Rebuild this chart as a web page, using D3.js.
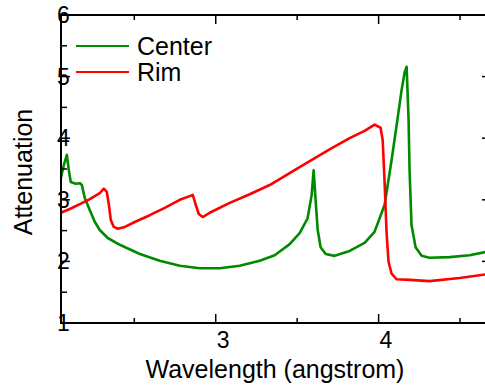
<!DOCTYPE html>
<html>
<head>
<meta charset="utf-8">
<script src="https://cdn.jsdelivr.net/npm/d3@7"></script>
<style>
  body { margin: 0; background: #fff; }
  text { font-family: Arial, "Liberation Sans", sans-serif; fill: #000; }
</style>
</head>
<body>
<script>
// données : longueur d'onde (angstrom) et atténuation
const centerWave = [2.049, 2.067, 2.086, 2.098, 2.11, 2.141, 2.166, 2.178, 2.196, 2.227, 2.258, 2.288, 2.337, 2.411, 2.534, 2.656, 2.779, 2.902, 3.025, 3.147, 3.27, 3.362, 3.454, 3.515, 3.564, 3.589, 3.601, 3.613, 3.626, 3.644, 3.675, 3.73, 3.822, 3.914, 3.975, 4.037, 4.08, 4.117, 4.141, 4.16, 4.172, 4.184, 4.19, 4.202, 4.227, 4.264, 4.313, 4.436, 4.558, 4.69]
const centerAtt = [3.35, 3.56, 3.73, 3.48, 3.29, 3.26, 3.27, 3.24, 3.03, 2.83, 2.64, 2.51, 2.38, 2.27, 2.12, 2.01, 1.93, 1.89, 1.89, 1.93, 2.01, 2.10, 2.28, 2.46, 2.70, 3.08, 3.48, 3.0, 2.51, 2.23, 2.12, 2.09, 2.17, 2.30, 2.48, 2.92, 3.65, 4.33, 4.78, 5.07, 5.16, 4.30, 3.48, 2.59, 2.23, 2.09, 2.06, 2.07, 2.10, 2.17]

const rimWave = [2.049, 2.104, 2.166, 2.227, 2.288, 2.313, 2.331, 2.344, 2.356, 2.374, 2.399, 2.442, 2.503, 2.595, 2.687, 2.779, 2.84, 2.859, 2.877, 2.896, 2.92, 2.963, 3.086, 3.209, 3.331, 3.515, 3.699, 3.822, 3.914, 3.975, 4.012, 4.025, 4.037, 4.049, 4.061, 4.08, 4.11, 4.19, 4.313, 4.497, 4.69]
const rimAtt = [2.79, 2.85, 2.93, 3.01, 3.11, 3.18, 3.13, 2.92, 2.67, 2.56, 2.53, 2.56, 2.64, 2.75, 2.87, 3.0, 3.06, 3.08, 2.92, 2.77, 2.72, 2.79, 2.95, 3.09, 3.24, 3.53, 3.82, 4.0, 4.12, 4.22, 4.17, 3.97, 3.27, 2.46, 1.99, 1.80, 1.71, 1.70, 1.68, 1.73, 1.80]

const seriesNames = ["Center", "Rim"]
const seriesColors = ["#008a00", "#ff0000"]
const xTickLabels = [3, 4]
const yTickLabels = [1, 2, 3, 4, 5, 6]

const width = 485
const height = 386
const margin = { top: 15, bottom: 63, left: 61, right: -6 }

let svg = d3.select("body")
    .append("svg")
    .attr("width", width)
    .attr("height", height)

let x = d3.scaleLinear()
    .domain([2.05, 4.69])
    .range([margin.left, width - margin.right])
let y = d3.scaleLinear()
    .domain([1, 6])
    .range([height - margin.bottom, margin.top])

const x0 = x.range()[0], x1 = x.range()[1]
const y0 = y.range()[0], y1 = y.range()[1]

// zone de dessin coupée au cadre
svg.append("clipPath").attr("id", "clip")
    .append("rect")
    .attr("x", x0).attr("y", y1)
    .attr("width", x1 - x0).attr("height", y0 - y1)

let line = d3.line()
    .x(d => x(d[0]))
    .y(d => y(d[1]))

const series = [
    d3.zip(centerWave, centerAtt),
    d3.zip(rimWave, rimAtt)
]

svg.append("g")
    .attr("clip-path", "url(#clip)")
    .selectAll("path")
    .data(series)
    .enter()
    .append("path")
    .attr("d", line)
    .attr("fill", "none")
    .attr("stroke", (d, i) => seriesColors[i])
    .attr("stroke-width", 2.6)
    .attr("stroke-linejoin", "round")

// ticks vers l'intérieur sur les 4 côtés
const xMajor = xTickLabels
const xMinor = [2.5, 3.5, 4.5]
const yMajor = yTickLabels
const yMinor = [1.5, 2.5, 3.5, 4.5, 5.5]

let ticks = svg.append("g").attr("stroke", "#000").attr("stroke-width", 1.5)
xMajor.concat(xMinor).forEach(v => {
    let len = xMajor.includes(v) ? 9 : 5
    ticks.append("line").attr("x1", x(v)).attr("x2", x(v)).attr("y1", y0).attr("y2", y0 - len)
    ticks.append("line").attr("x1", x(v)).attr("x2", x(v)).attr("y1", y1).attr("y2", y1 + len)
})
yMajor.concat(yMinor).forEach(v => {
    let len = yMajor.includes(v) ? 9 : 6
    ticks.append("line").attr("y1", y(v)).attr("y2", y(v)).attr("x1", x0).attr("x2", x0 + len)
    ticks.append("line").attr("y1", y(v)).attr("y2", y(v)).attr("x1", x1).attr("x2", x1 - len)
})

// cadre
svg.append("rect")
    .attr("x", x0).attr("y", y1)
    .attr("width", x1 - x0).attr("height", y0 - y1)
    .attr("fill", "none")
    .attr("stroke", "#000")
    .attr("stroke-width", 2)

// libellés des ticks
svg.append("g").selectAll("text")
    .data(xTickLabels)
    .enter()
    .append("text")
    .attr("x", d => x(d) + 1)
    .attr("y", y0 + 25)
    .attr("font-size", 23)
    .text(d => d)

svg.append("g").selectAll("text")
    .data(yTickLabels)
    .enter()
    .append("text")
    .attr("x", x0 - 4)
    .attr("y", d => y(d) + 8)
    .attr("font-size", 23)
    .text(d => d)

// titres des axes
svg.append("text")
    .attr("x", 275)
    .attr("y", 378)
    .attr("text-anchor", "middle")
    .attr("font-size", 25)
    .text("Wavelength (angstrom)")

svg.append("text")
    .attr("transform", "translate(32,172) rotate(-90)")
    .attr("text-anchor", "middle")
    .attr("font-size", 25)
    .text("Attenuation")

// légende
let legend = svg.append("g")
seriesNames.forEach((name, i) => {
    let ly = 46 + i * 26
    legend.append("line")
        .attr("x1", 76).attr("x2", 129)
        .attr("y1", ly).attr("y2", ly)
        .attr("stroke", seriesColors[i])
        .attr("stroke-width", 2)
    legend.append("text")
        .attr("x", 137)
        .attr("y", ly + 9)
        .attr("font-size", 25)
        .text(name)
})
</script>
</body>
</html>
